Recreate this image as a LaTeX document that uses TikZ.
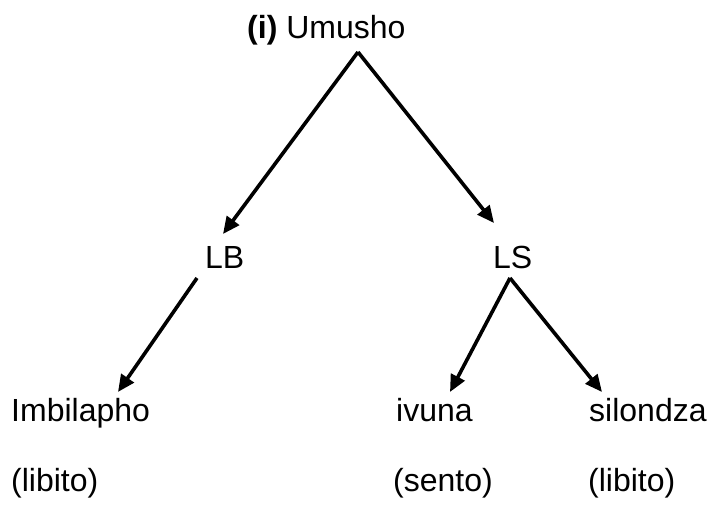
\documentclass[tikz,border=0pt]{standalone}
\usepackage{fontspec}
\setmainfont{Liberation Sans}
\usetikzlibrary{arrows.meta}
\begin{document}
\begin{tikzpicture}[x=1pt,y=-1pt,
  lbl/.style={anchor=base west,inner sep=0pt,font=\fontsize{32}{38}\selectfont},
  conn/.style={line width=3.6pt,-{Triangle[length=17pt,width=15pt]}}]
\useasboundingbox (0,0) rectangle (709,506);
\node[lbl] (root) at (247,38) {\textbf{(i)} Umusho};
\node[lbl] (lb) at (205,268) {LB};
\node[lbl] (ls) at (493,268) {LS};
\node[lbl] (imb) at (11,421) {Imbilapho};
\node[lbl] (imbg) at (11,491) {(libito)};
\node[lbl] (ivu) at (396,421) {ivuna};
\node[lbl] (ivug) at (393,491) {(sento)};
\node[lbl] (sil) at (589,421) {silondza};
\node[lbl] (silg) at (588,491) {(libito)};
\coordinate (apex) at (358,52);
\coordinate (lbtop) at (223,234);
\coordinate (lstop) at (494,223);
\coordinate (lbfoot) at (197,278);
\coordinate (lsfoot) at (510,278);
\coordinate (imbtop) at (118,392);
\coordinate (ivutop) at (450,392);
\coordinate (siltop) at (602,392);
\draw[conn] (apex) -- (lbtop);
\draw[conn] (apex) -- (lstop);
\draw[conn] (lbfoot) -- (imbtop);
\draw[conn] (lsfoot) -- (ivutop);
\draw[conn] (lsfoot) -- (siltop);
\end{tikzpicture}
\end{document}
